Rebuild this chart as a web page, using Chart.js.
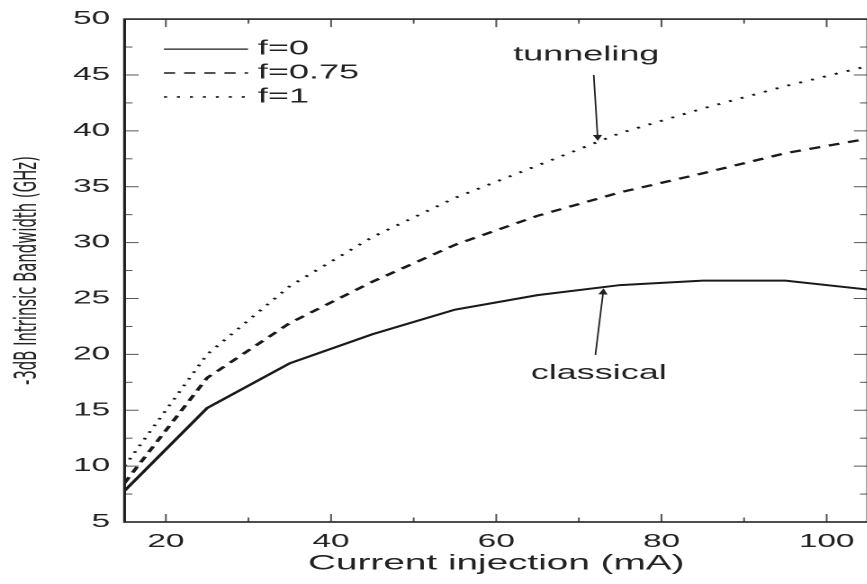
<!DOCTYPE html>
<html>
<head>
<meta charset="utf-8">
<script src="https://cdn.jsdelivr.net/npm/chart.js@4.4.1/dist/chart.umd.min.js"></script>
<style>
html, body { margin: 0; padding: 0; background: #fff; overflow: hidden; }
#grafica { display: block; }
</style>
</head>
<body>
<!-- the original figure is stretched horizontally, so the canvas is drawn narrow and shown 1.8x wider -->
<canvas id="grafica" width="490" height="584" style="width:882px;height:584px"></canvas>
<script>
var colorLinea = "#1a1a1a";
var colorTexto = "#222";
var fuente = "'Liberation Sans', Arial, Helvetica, sans-serif";
var fuenteEstrecha = "'Liberation Sans Narrow', 'Arial Narrow', 'DejaVu Sans Condensed', sans-serif";

var corriente = [15, 25, 35, 45, 55, 65, 75, 85, 95, 105];

var anchoF0 = [7.8, 15.2, 19.2, 21.8, 24.0, 25.3, 26.2, 26.6, 26.6, 25.8];
var anchoF075 = [8.5, 17.9, 22.8, 26.5, 29.8, 32.4, 34.5, 36.2, 38.0, 39.3];
var anchoF1 = [10.0, 20.0, 26.1, 30.5, 34.0, 36.9, 39.8, 42.0, 44.0, 45.8];

var etiquetasX = [20, 40, 60, 80, 100];
var menoresX = [30, 50, 70, 90];
var etiquetasY = [5, 10, 15, 20, 25, 30, 35, 40, 45, 50];
var menoresY = [7.5, 12.5, 17.5, 22.5, 27.5, 32.5, 37.5, 42.5, 47.5];

// text notes with arrows, in data units
var notas = [
    { texto: "tunneling", x: 70.9, y: 46.8, desde: [71.8, 45.0], hasta: [72.3, 39.1] },
    { texto: "classical", x: 72.4, y: 18.3, desde: [72.0, 19.95], hasta: [73.0, 25.9] }
];

function puntos(valores) {
    return corriente.map(function (c, i) { return { x: c, y: valores[i] }; });
}

function linea(ctx, x1, y1, x2, y2) {
    ctx.beginPath();
    ctx.moveTo(x1, y1);
    ctx.lineTo(x2, y2);
    ctx.stroke();
}

var marco = {
    id: 'marco',
    afterDatasetsDraw: function (chart) {
        var ctx = chart.ctx, a = chart.chartArea;
        var ex = chart.scales.x, ey = chart.scales.y;
        ctx.save();
        ctx.strokeStyle = "#555";
        ctx.lineWidth = 1;
        etiquetasY.forEach(function (v) {
            var py = ey.getPixelForValue(v);
            linea(ctx, a.left, py, a.left + 7.8, py);
            linea(ctx, a.right, py, a.right - 7.8, py);
        });
        menoresY.forEach(function (v) {
            var py = ey.getPixelForValue(v);
            linea(ctx, a.left, py, a.left + 4.4, py);
            linea(ctx, a.right, py, a.right - 4.4, py);
        });
        etiquetasX.forEach(function (v) {
            var px = ex.getPixelForValue(v);
            linea(ctx, px, a.bottom, px, a.bottom - 8);
            linea(ctx, px, a.top, px, a.top + 8);
        });
        menoresX.forEach(function (v) {
            var px = ex.getPixelForValue(v);
            linea(ctx, px, a.bottom, px, a.bottom - 4.5);
            linea(ctx, px, a.top, px, a.top + 4.5);
        });
        ctx.strokeStyle = colorTexto;
        ctx.lineWidth = 1.6;
        ctx.strokeRect(a.left, a.top, a.right - a.left, a.bottom - a.top);

        // legend inside the plot
        ctx.font = "20px " + fuente;
        ctx.textBaseline = "middle";
        ctx.textAlign = "left";
        chart.data.datasets.forEach(function (ds, i) {
            var fy = a.top + 30 + i * 23.9;
            ctx.strokeStyle = ds.borderColor;
            ctx.lineWidth = i == 0 ? 1.2 : 1.6;
            ctx.setLineDash(ds.borderDash || []);
            linea(ctx, a.left + 21.9, fy, a.left + 68.6, fy);
            ctx.setLineDash([]);
            ctx.fillStyle = colorTexto;
            ctx.fillText(ds.label, a.left + 74.1, fy);
        });

        // notes
        ctx.textAlign = "center";
        notas.forEach(function (n) {
            ctx.fillStyle = colorTexto;
            ctx.fillText(n.texto, ex.getPixelForValue(n.x), ey.getPixelForValue(n.y));
            var x1 = ex.getPixelForValue(n.desde[0]), y1 = ey.getPixelForValue(n.desde[1]);
            var x2 = ex.getPixelForValue(n.hasta[0]), y2 = ey.getPixelForValue(n.hasta[1]);
            ctx.strokeStyle = colorTexto;
            ctx.lineWidth = 0.9;
            var dx = x2 - x1, dy = y2 - y1, l = Math.sqrt(dx * dx + dy * dy);
            var ux = dx / l, uy = dy / l;
            linea(ctx, x1, y1, x2 - ux * 5, y2 - uy * 5);
            ctx.beginPath();
            ctx.moveTo(x2, y2);
            ctx.lineTo(x2 - ux * 6 - uy * 2.6, y2 - uy * 6 + ux * 2.6);
            ctx.lineTo(x2 - ux * 6 + uy * 2.6, y2 - uy * 6 - ux * 2.6);
            ctx.closePath();
            ctx.fill();
        });
        ctx.restore();
    }
};

var datosGrafica = {
    datasets: [{
        label: 'f=0',
        data: puntos(anchoF0),
        borderColor: colorLinea,
        borderWidth: 2
    }, {
        label: 'f=0.75',
        data: puntos(anchoF075),
        borderColor: colorLinea,
        borderWidth: 2.2,
        borderDash: [6.2, 5]
    }, {
        label: 'f=1',
        data: puntos(anchoF1),
        borderColor: colorLinea,
        borderWidth: 1.9,
        borderDash: [1.7, 5.5]
    }]
};

var configuracion = {
    type: 'line',
    data: datosGrafica,
    plugins: [marco],
    options: {
        responsive: false,
        devicePixelRatio: 2,
        animation: false,
        layout: { padding: { top: 15, right: 7.8, left: 0, bottom: 0 } },
        elements: { point: { radius: 0 }, line: { tension: 0 } },
        plugins: { legend: { display: false }, tooltip: { enabled: false } },
        scales: {
            x: {
                type: 'linear',
                min: 15,
                max: 105,
                grid: { display: false, drawTicks: false },
                border: { display: false },
                afterBuildTicks: function (s) { s.ticks = etiquetasX.map(function (v) { return { value: v }; }); },
                afterFit: function (s) { s.height = 62; },
                ticks: { color: colorTexto, padding: 9, maxRotation: 0, font: { family: fuente, size: 18.5 } },
                title: {
                    display: true,
                    text: 'Current injection (mA)',
                    color: colorTexto,
                    font: { family: fuente, size: 21.5 },
                    padding: { top: 0, bottom: 7.5 }
                }
            },
            y: {
                min: 5,
                max: 50,
                grid: { display: false, drawTicks: false },
                border: { display: false },
                afterBuildTicks: function (s) { s.ticks = etiquetasY.map(function (v) { return { value: v }; }); },
                afterFit: function (s) { s.width = 69.2; },
                ticks: { color: colorTexto, padding: 8, font: { family: fuente, size: 18.5 } },
                title: {
                    display: true,
                    text: '-3dB Intrinsic Bandwidth (GHz)',
                    color: colorTexto,
                    font: { family: fuenteEstrecha, size: 16.5 },
                    padding: { top: 5.7, bottom: 0 }
                }
            }
        }
    }
};

var graficaJavascript = new Chart(
    document.getElementById('grafica'),
    configuracion
);
</script>
</body>
</html>
